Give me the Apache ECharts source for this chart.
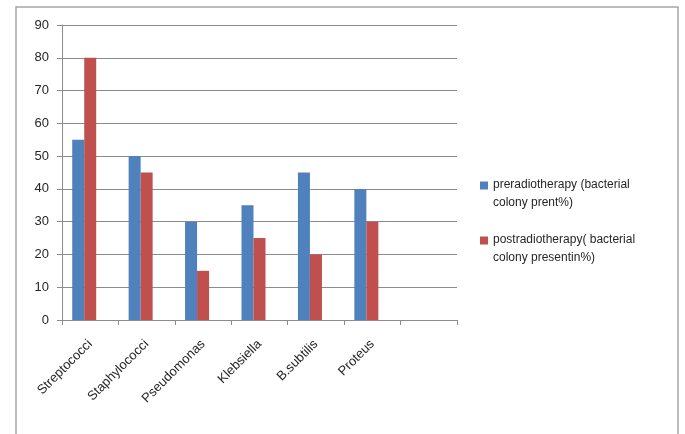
<!DOCTYPE html>
<html>
<head>
<meta charset="utf-8">
<script src="https://cdn.jsdelivr.net/npm/echarts@6/dist/echarts.min.js"></script>
<style>
  html, body { margin: 0; padding: 0; background: #fff; }
  #chart { width: 685px; height: 434px; }
</style>
</head>
<body>
<div id="chart"></div>
<script>
// bacteria (last slot is empty in the source chart)
const categories = ['Streptococci', 'Staphylococci', 'Pseudomonas', 'Klebsiella', 'B.subtilis', 'Proteus', ''];
const preValues = [55, 50, 30, 35, 45, 40, null];
const postValues = [80, 45, 15, 25, 20, 30, null];
// the original sheet has a third, empty series that still takes a bar slot
const emptyValues = [null, null, null, null, null, null, null];
const preName = 'preradiotherapy (bacterial colony prent%)';
const postName = 'postradiotherapy( bacterial colony presentin%)';
const yTicks = [0, 10, 20, 30, 40, 50, 60, 70, 80, 90];

// legend names wrap on two lines like the original
const legendLines = {};
legendLines[preName] = 'preradiotherapy (bacterial\ncolony prent%)';
legendLines[postName] = 'postradiotherapy( bacterial\ncolony presentin%)';

const FONT = 'Liberation Sans';
const GRID_COLOR = '#8c8c8c';

const chart = echarts.init(document.getElementById('chart'));

chart.setOption({
    animation: false,
    graphic: [{
        type: 'rect',
        shape: { x: 16, y: 7, width: 662, height: 440 },
        style: { fill: 'none', stroke: '#a6a6a6', lineWidth: 1.5 },
        silent: true,
    }],
    grid: { left: 62, right: 228, top: 25, bottom: 114 },
    legend: {
        orient: 'vertical',
        left: 480,
        top: 176,
        padding: 0,
        itemWidth: 8,
        itemHeight: 25,
        itemGap: 19,
        // square sits at the top so it lines up with the first text line
        icon: 'path://M0,0H8V8H0Z M0,25H0.01V25.01H0Z',
        data: [preName, postName],
        formatter: name => legendLines[name] || name,
        textStyle: {
            fontFamily: FONT,
            fontSize: 12,
            color: '#262626',
            lineHeight: 18,
        },
    },
    xAxis: {
        type: 'category',
        data: categories,
        axisLine: { lineStyle: { color: GRID_COLOR, width: 1 } },
        axisTick: { show: true, length: 5, alignWithLabel: false, lineStyle: { color: GRID_COLOR } },
        axisLabel: {
            interval: 0,
            rotate: 45,
            margin: 22,
            fontFamily: FONT,
            fontSize: 13,
            color: '#262626',
        },
    },
    yAxis: {
        type: 'value',
        min: yTicks[0],
        max: yTicks[yTicks.length - 1],
        interval: 10,
        axisLine: { show: true, lineStyle: { color: GRID_COLOR, width: 1 } },
        axisTick: { show: true, length: 5, lineStyle: { color: GRID_COLOR } },
        axisLabel: { margin: 13, fontFamily: FONT, fontSize: 13, color: '#262626' },
        splitLine: { lineStyle: { color: GRID_COLOR, width: 1 } },
    },
    series: [
        {
            name: preName,
            type: 'bar',
            data: preValues,
            barWidth: 12,
            barGap: '0%',
            itemStyle: { color: '#4f81bd' },
        },
        {
            name: postName,
            type: 'bar',
            data: postValues,
            barWidth: 12,
            barGap: '0%',
            itemStyle: { color: '#c0504d' },
        },
        {
            name: 'empty',
            type: 'bar',
            data: emptyValues,
            barWidth: 12,
            barGap: '0%',
        },
    ],
});
</script>
</body>
</html>
